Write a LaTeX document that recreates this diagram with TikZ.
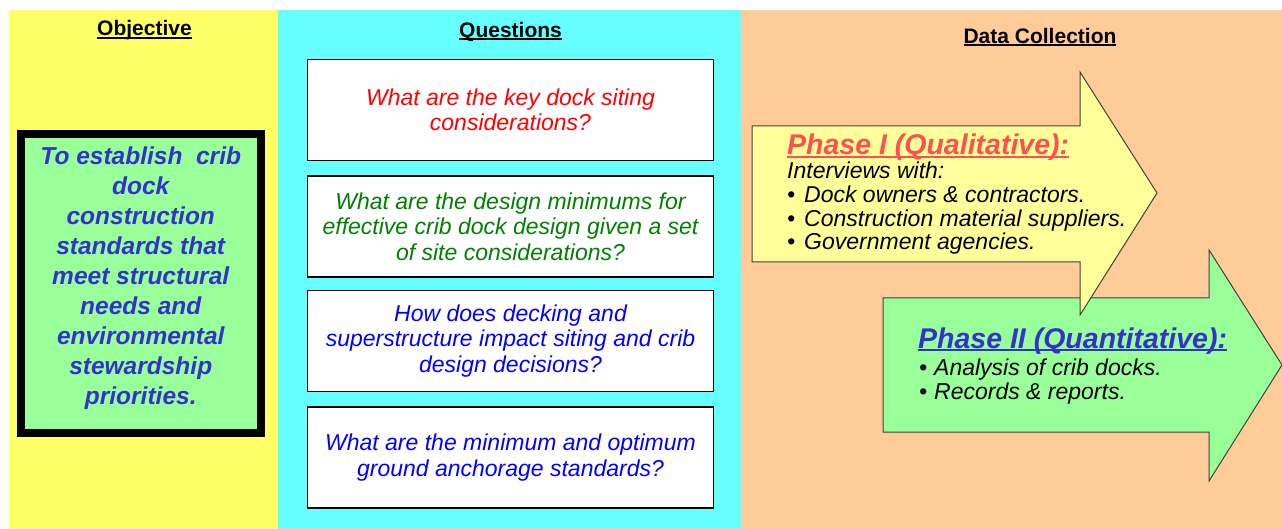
\documentclass[tikz,border=0pt]{standalone}
\usepackage{fontspec}
\setmainfont{Liberation Sans}
\definecolor{objpanel}{HTML}{FFFF66}
\definecolor{qpanel}{HTML}{66FFFF}
\definecolor{datapanel}{HTML}{FFCC99}
\definecolor{objgreen}{HTML}{99FF99}
\definecolor{objblue}{HTML}{3333CC}
\definecolor{qred}{HTML}{FF0000}
\definecolor{qgreen}{HTML}{008000}
\definecolor{qblue}{HTML}{0000FF}
\definecolor{phaseone}{HTML}{FFFF99}
\definecolor{phaseonehead}{HTML}{FF5050}
\newsavebox\ulsave
\newcommand\ulbox[1]{\sbox\ulsave{#1}\rlap{\rule[-2.6pt]{\wd\ulsave}{1.6pt}}\usebox\ulsave}

\begin{document}
\begin{tikzpicture}[x=1pt, y=-1pt,
    title/.style={anchor=base, font=\fontsize{21}{25}\selectfont\bfseries},
    qbox/.style={draw, line width=1.5pt, fill=white, minimum width=406pt, minimum height=101pt,
      align=center, font=\fontsize{23}{25.5}\selectfont\itshape},
    phasehead/.style={anchor=base west, inner sep=0pt, font=\fontsize{28.5}{30}\selectfont\bfseries\itshape},
    item/.style={anchor=base west, inner sep=0pt, font=\fontsize{23}{24}\selectfont\itshape},
    arrowbody/.style={draw=black!75, line width=1pt, line join=miter}]
            \useasboundingbox (0,0) rectangle (1282,529);
            % Panels
            \fill[white] (0,0) rectangle (1282,529);
            \fill[objpanel] (9,10.5) rectangle (278,529);
            \fill[qpanel] (278,10.5) rectangle (741,529);
            \fill[datapanel] (741,10.5) rectangle (1282,529);

            % Titles
            \node[title] (objtitle) at (144.5,36) {\ulbox{Objective}};
            \node[title] (qtitle) at (510.5,37.5) {\ulbox{Questions}};
            \node[title] (datatitle) at (1040,43.5) {\ulbox{Data Collection}};

            % Objective
            \node[draw, line width=8pt, fill=objgreen, minimum width=239.5pt, minimum height=299pt] (objbox) at (140.75,283.5) {};
            \node[align=center, text=objblue, font=\fontsize{24.5}{30}\selectfont\bfseries\itshape] (objtext) at ([yshift=5.5pt]objbox.center)
                {To establish\ \ crib\\ dock\\ construction\\ standards that\\ meet structural\\ needs and\\ environmental\\ stewardship\\ priorities.};

            % Questions
            \node[qbox, text=qred] (q1) at (510.5,110) {What are the key dock siting\\ considerations?};
            \node[qbox, text=qgreen] (q2) at (510.5,226.5) {What are the design minimums for\\ effective crib dock design given a set\\ of site considerations?};
            \node[qbox, text=qblue] (q3) at (510.5,341) {How does decking and\\ superstructure impact siting and crib\\ design decisions?};
            \node[qbox, text=qblue] (q4) at (510.5,457.5) {What are the minimum and optimum\\ ground anchorage standards?};

            % Arrows
            \draw[arrowbody, fill=objgreen] (883,298) -- (1209,298) -- (1209,250) -- (1282,365) -- (1209,481) -- (1209,432) -- (883,432) -- cycle;
            \draw[arrowbody, fill=phaseone] (752,126) -- (1080,126) -- (1080,72) -- (1157,193) -- (1080,315) -- (1080,262) -- (752,262) -- cycle;

            % Phase I
            \node[phasehead, text=phaseonehead] (p1head) at (787,155) {\ulbox{Phase I (Qualitative):}};
            \node[item] (p1intro) at (787,179) {Interviews with:};
            \node[item] (p1a) at (787,203) {\makebox[17pt][l]{\textbullet}Dock owners \& contractors.};
            \node[item] (p1b) at (787,227) {\makebox[17pt][l]{\textbullet}Construction material suppliers.};
            \node[item] (p1c) at (787,250) {\makebox[17pt][l]{\textbullet}Government agencies.};

            % Phase II
            \node[phasehead, text=objblue] (p2head) at (918,348) {\ulbox{Phase II (Quantitative):}};
            \node[item] (p2a) at (919,375) {\makebox[15pt][l]{\textbullet}Analysis of crib docks.};
            \node[item] (p2b) at (919,399) {\makebox[15pt][l]{\textbullet}Records \& reports.};
        \end{tikzpicture}
\end{document}
